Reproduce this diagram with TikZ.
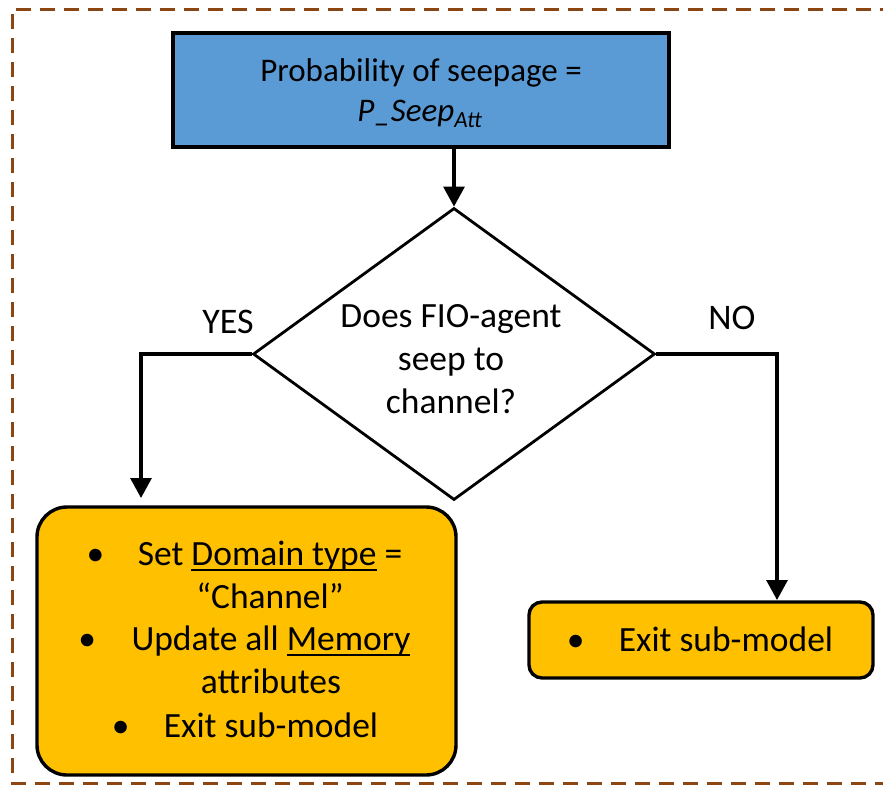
\documentclass[tikz,border=0pt]{standalone}
\usepackage{fontspec}
\setmainfont{Carlito}
\usetikzlibrary{shapes.geometric,arrows.meta}
\definecolor{boxblue}{RGB}{91,155,213}
\definecolor{boxgold}{RGB}{255,192,0}
\definecolor{framebrown}{RGB}{140,70,20}
% underline drawn a little below the baseline, as in the original slides
\newcommand{\undr}[1]{\setbox0\hbox{#1}\rlap{\rule[-6pt]{\wd0}{1.8pt}}\box0\relax}
\begin{document}
\begin{tikzpicture}[x=1pt,y=-1pt,
  txt/.style={font=\fontsize{33}{40}\selectfont, inner sep=0pt, anchor=base},
  bigtxt/.style={font=\fontsize{35.5}{43}\selectfont, inner sep=0pt, anchor=base},
  lbl/.style={font=\fontsize{36}{43}\selectfont, inner sep=0pt, anchor=base},
  conn/.style={line width=3.1pt, -{Triangle[width=21pt,length=20pt]}},
  blockbox/.style={draw=black, line width=3.4pt, rectangle, inner sep=0pt}
]
\useasboundingbox (0,0) rectangle (883,785);

% outer dashed frame (its right side runs past the page edge)
\draw[framebrown, line width=3pt, dash pattern=on 15pt off 9pt]
  (895,9) -- (12,9) -- (12,783) -- (895,783);

% process box
\node[blockbox, fill=boxblue, minimum width=496pt, minimum height=114pt] (top) at (421,90) {};
\node[txt] (t1) at (421,81) {Probability of seepage =};
\node[txt] (t2) at (420,121) {\textit{P\_Seep}\textsubscript{\textit{Att}}};

% decision
\node[draw=black, line width=2.8pt, diamond, inner sep=0pt, minimum width=402pt, minimum height=292pt] (dia) at (454,354) {};
\node[bigtxt] (d1) at (451,327) {Does FIO-agent};
\node[bigtxt] (d2) at (451,370) {seep to};
\node[bigtxt] (d3) at (451,413) {channel?};

% outcome boxes
\node[blockbox, fill=boxgold, rounded corners=30pt, minimum width=419pt, minimum height=268pt] (lbox) at (246.5,641) {};
\node[blockbox, fill=boxgold, rounded corners=13pt, minimum width=344pt, minimum height=76pt] (rbox) at (701,640) {};

% text of the YES box
\node[bigtxt] (l1) at (270,565) {Set \undr{Domain type} =};
\node[bigtxt] (l2) at (270,608) {“Channel”};
\node[bigtxt] (l3) at (271,650) {Update all \undr{Memory}};
\node[bigtxt] (l4) at (271,693) {attributes};
\node[bigtxt] (l5) at (271,737) {Exit sub-model};
\node[bigtxt] (b1) at ([xshift=-42pt]l1.base west) {•};
\node[bigtxt] (b3) at ([xshift=-44pt]l3.base west) {•};
\node[bigtxt] (b5) at ([xshift=-43pt]l5.base west) {•};

% text of the NO box
\node[bigtxt] (r1) at (726,651) {Exit sub-model};
\node[bigtxt] (rb1) at ([xshift=-43pt]r1.base west) {•};

% branch labels
\node[lbl] (yes) at (228,333) {YES};
\node[lbl] (no) at (732,329) {NO};

% connectors
\coordinate (yesend) at (141,498);
\coordinate (noend) at (777,600);
\draw[conn] (top.south -| dia.north) -- (dia.north);
\draw[conn] (dia.west) -| (yesend);
\draw[conn] (dia.east) -| (noend);
\end{tikzpicture}
\end{document}
